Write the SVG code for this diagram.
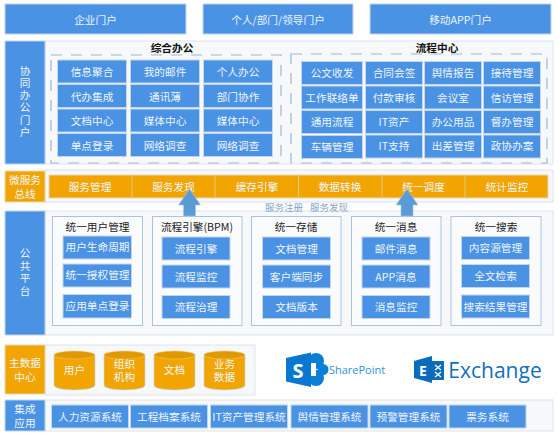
<svg xmlns="http://www.w3.org/2000/svg" width="558" height="437" viewBox="0 0 558 437">
<style>
text{font-family:"Noto Sans CJK SC","Liberation Sans",sans-serif;font-size:10.67px;text-anchor:middle;dominant-baseline:central}
.b{fill:#4a92e3;stroke:#c3d6ec;stroke-width:1}
.o{fill:#f2a500;stroke:#e6d9b8;stroke-width:1}
.p{fill:#f7f8fa;stroke:#dde4ec;stroke-width:1}
.w{fill:#fafbfd;stroke:#a9c4e0;stroke-width:1}
.d{fill:none;stroke:#9db8d8;stroke-width:1.2;stroke-dasharray:11 9}
.t{fill:#eef5fc}
.k{fill:#222}
.h{fill:#111;font-weight:700}
.s{fill:#86a5cc;font-size:9.5px}
.a{fill:#5b9bd5;stroke:#a9c8e8;stroke-width:.6}
.dv{stroke:#e6c77c;stroke-width:1}
.c{fill:#f2a500;stroke:#bcd4ec;stroke-width:.6}
.ct{fill:#e09a00;stroke:#f6cf7a;stroke-width:.5}
.v{writing-mode:vertical-rl;text-orientation:upright;letter-spacing:1.6px}
</style>
<rect width="558" height="437" fill="#fff"/>
<g id="panels">
<rect class="p" x="45" y="41" width="508" height="123"/>
<rect class="p" x="45" y="170" width="508" height="32"/>
<rect class="p" x="45" y="211" width="508" height="124"/>
<rect class="p" x="45" y="345" width="210" height="50"/>
<rect class="p" x="45" y="400" width="508" height="31"/>
<rect class="d" x="51" y="55" width="230" height="108"/>
<rect class="d" x="291" y="54" width="256" height="109"/>
</g>
<g id="portal-enterprise"><rect class="b" x="5" y="4" width="181" height="30"/><text class="t" x="95.500" y="19">企业门户</text></g>
<g id="portal-personal"><rect class="b" x="203" y="4" width="150" height="30"/><text class="t" x="278" y="19">个人/部门/领导门户</text></g>
<g id="portal-mobile"><rect class="b" x="370" y="4" width="181" height="30"/><text class="t" x="460.500" y="19">移动APP门户</text></g>
<g id="side-collab"><rect class="b" x="5" y="41" width="40" height="123"/>
<text class="t v" x="25" y="102">协同办公门户</text></g>
<g id="side-bus"><rect class="o" x="5" y="171" width="40" height="31"/><text class="t" x="25" y="179.500">微服务<tspan x="25" dy="13">总线</tspan></text></g>
<g id="side-platform"><rect class="b" x="5" y="211" width="40" height="124"/>
<text class="t v" x="25" y="273" style="letter-spacing:2.2px">公共平台</text></g>
<g id="side-master"><rect class="o" x="5" y="345" width="40" height="49"/><text class="t" x="25" y="362.500">主数据<tspan x="25" dy="13">中心</tspan></text></g>
<g id="side-integration"><rect class="b" x="5" y="400" width="40" height="31"/><text class="t" x="25" y="408.500">集成<tspan x="25" dy="13">应用</tspan></text></g>
<g id="office"><text class="h" x="172" y="47.500">综合办公</text>
<rect class="b" x="57.500" y="60" width="69" height="23"/><text class="t" x="92" y="71.500">信息聚合</text>
<rect class="b" x="130.500" y="60" width="69" height="23"/><text class="t" x="165" y="71.500">我的邮件</text>
<rect class="b" x="203.500" y="60" width="69" height="23"/><text class="t" x="238" y="71.500">个人办公</text>
<rect class="b" x="57.500" y="84.500" width="69" height="23"/><text class="t" x="92" y="96">代办集成</text>
<rect class="b" x="130.500" y="84.500" width="69" height="23"/><text class="t" x="165" y="96">通讯薄</text>
<rect class="b" x="203.500" y="84.500" width="69" height="23"/><text class="t" x="238" y="96">部门协作</text>
<rect class="b" x="57.500" y="109" width="69" height="23"/><text class="t" x="92" y="120.500">文档中心</text>
<rect class="b" x="130.500" y="109" width="69" height="23"/><text class="t" x="165" y="120.500">媒体中心</text>
<rect class="b" x="203.500" y="109" width="69" height="23"/><text class="t" x="238" y="120.500">媒体中心</text>
<rect class="b" x="57.500" y="133.500" width="69" height="23"/><text class="t" x="92" y="145">单点登录</text>
<rect class="b" x="130.500" y="133.500" width="69" height="23"/><text class="t" x="165" y="145">网络调查</text>
<rect class="b" x="203.500" y="133.500" width="69" height="23"/><text class="t" x="238" y="145">网络调查</text></g>
<g id="process"><text class="h" x="437" y="47.500">流程中心</text>
<rect class="b" x="301.500" y="61.500" width="61" height="23"/><text class="t" x="332" y="72.500">公文收发</text>
<rect class="b" x="365.500" y="61.500" width="57" height="23"/><text class="t" x="394" y="72.500">合同会签</text>
<rect class="b" x="424.500" y="61.500" width="57" height="23"/><text class="t" x="453" y="72.500">舆情报告</text>
<rect class="b" x="483.500" y="61.500" width="57" height="23"/><text class="t" x="512" y="72.500">接待管理</text>
<rect class="b" x="301.500" y="86" width="61" height="23"/><text class="t" x="332" y="97">工作联络单</text>
<rect class="b" x="365.500" y="86" width="57" height="23"/><text class="t" x="394" y="97">付款审核</text>
<rect class="b" x="424.500" y="86" width="57" height="23"/><text class="t" x="453" y="97">会议室</text>
<rect class="b" x="483.500" y="86" width="57" height="23"/><text class="t" x="512" y="97">信访管理</text>
<rect class="b" x="301.500" y="110.500" width="61" height="23"/><text class="t" x="332" y="121.500">通用流程</text>
<rect class="b" x="365.500" y="110.500" width="57" height="23"/><text class="t" x="394" y="121">IT资产</text>
<rect class="b" x="424.500" y="110.500" width="57" height="23"/><text class="t" x="453" y="121">办公用品</text>
<rect class="b" x="483.500" y="110.500" width="57" height="23"/><text class="t" x="512" y="121">督办管理</text>
<rect class="b" x="301.500" y="135.500" width="61" height="23"/><text class="t" x="332" y="146.500">车辆管理</text>
<rect class="b" x="365.500" y="135" width="57" height="23"/><text class="t" x="394" y="145.500">IT支持</text>
<rect class="b" x="424.500" y="135" width="57" height="23"/><text class="t" x="453" y="145.500">出差管理</text>
<rect class="b" x="483.500" y="135" width="57" height="23"/><text class="t" x="512" y="145.500">政协办案</text></g>
<g id="bus"><rect x="49" y="175" width="499" height="23" fill="#f2a500" stroke="#e6d9b8"/>
<path class="dv" d="M132 175V198M215 175V198M298.500 175V198M382 175V198M465 175V198"/>
<text class="t" x="90" y="186">服务管理</text><text class="t" x="173.500" y="186">服务发现</text><text class="t" x="257" y="186">缓存引擎</text><text class="t" x="340" y="186">数据转换</text><text class="t" x="423.500" y="186">统一调度</text><text class="t" x="507" y="186">统计监控</text></g>
<g id="connectors">
<path class="a" d="M189.500 189L178.500 205H183.500V216H195.500V205H200.500Z"/>
<path class="a" d="M407 189L396 205H401V216H413V205H418Z"/>
</g>
<g id="connector-labels"><text class="s" x="284" y="207">服务注册</text><text class="s" x="329" y="207">服务发现</text></g>
<g id="user-mgmt"><rect class="w" x="52.500" y="216.500" width="90" height="109"/><text class="k" x="97.500" y="226.500">统一用户管理</text>
<rect class="b" x="63" y="236" width="68.500" height="23"/><text class="t" x="97.500" y="246.500">用户生命周期</text>
<rect class="b" x="63" y="264" width="68.500" height="23"/><text class="t" x="97.500" y="274.500">统一授权管理</text>
<rect class="b" x="63" y="294.500" width="68.500" height="23.500"/><text class="t" x="97.500" y="305.500">应用单点登录</text></g>
<g id="bpm"><rect class="w" x="152.500" y="216.500" width="89.500" height="109"/><text class="k" x="197" y="226.500">流程引擎(BPM)</text>
<rect class="b" x="162" y="237" width="68" height="23"/><text class="t" x="196" y="248">流程引擎</text>
<rect class="b" x="162" y="265" width="68" height="23"/><text class="t" x="196" y="276">流程监控</text>
<rect class="b" x="162" y="295.500" width="68" height="23"/><text class="t" x="196" y="306.500">流程治理</text></g>
<g id="storage"><rect class="w" x="251.500" y="216.500" width="89.500" height="109"/><text class="k" x="296" y="226.500">统一存储</text>
<rect class="b" x="262.500" y="237" width="68" height="23"/><text class="t" x="296.500" y="248">文档管理</text>
<rect class="b" x="262.500" y="265" width="68" height="23"/><text class="t" x="296.500" y="276">客户端同步</text>
<rect class="b" x="262.500" y="295.500" width="68" height="23"/><text class="t" x="296.500" y="306.500">文档版本</text></g>
<g id="message"><rect class="w" x="351.500" y="216.500" width="89.500" height="109"/><text class="k" x="396" y="226.500">统一消息</text>
<rect class="b" x="362" y="237" width="68" height="23"/><text class="t" x="396" y="248">邮件消息</text>
<rect class="b" x="362" y="265" width="68" height="23"/><text class="t" x="396" y="276">APP消息</text>
<rect class="b" x="362" y="295.500" width="68" height="23"/><text class="t" x="396" y="306.500">消息监控</text></g>
<g id="search"><rect class="w" x="451" y="216.500" width="90" height="109"/><text class="k" x="496" y="226.500">统一搜索</text>
<rect class="b" x="461.500" y="236.500" width="68" height="23"/><text class="t" x="495.500" y="247">内容源管理</text>
<rect class="b" x="461.500" y="264.500" width="68" height="23"/><text class="t" x="495.500" y="275.500">全文检索</text>
<rect class="b" x="461.500" y="295" width="68" height="23"/><text class="t" x="495.500" y="306">搜索结果管理</text></g>
<defs><g id="cyl"><path class="c" d="M0 5V35C0 41.500 41 41.500 41 35V5Z"/><ellipse class="ct" cx="20.500" cy="5" rx="20.500" ry="4"/></g></defs>
<g id="db-user"><use href="#cyl" x="54" y="350"/><text class="t" x="74.500" y="369.500">用户</text></g>
<g id="db-org"><use href="#cyl" x="104" y="350"/><text class="t" x="124.500" y="363">组织<tspan x="124.500" dy="13">机构</tspan></text></g>
<g id="db-doc"><use href="#cyl" x="154" y="350"/><text class="t" x="174.500" y="369.500">文档</text></g>
<g id="db-biz"><use href="#cyl" x="204" y="350"/><text class="t" x="224.500" y="363">业务<tspan x="224.500" dy="13">数据</tspan></text></g>
<g id="integration">
<rect class="b" x="51.500" y="405" width="77" height="23"/><text class="t" x="90" y="416">人力资源系统</text>
<rect class="b" x="130.500" y="405" width="77" height="23"/><text class="t" x="169" y="416">工程档案系统</text>
<rect class="b" x="210.500" y="405" width="77" height="23"/><text class="t" x="249" y="416">IT资产管理系统</text>
<rect class="b" x="291" y="405" width="77" height="23"/><text class="t" x="329.500" y="416">舆情管理系统</text>
<rect class="b" x="370" y="405" width="77" height="23"/><text class="t" x="408.500" y="416">预警管理系统</text>
<rect class="b" x="449" y="405" width="77" height="23"/><text class="t" x="487.500" y="416">票务系统</text></g>
<g id="logo-sharepoint">
<circle cx="316" cy="361" r="8" fill="#0b7fd4"/><circle cx="316" cy="378" r="8" fill="#0b7fd4"/><circle cx="323" cy="369.500" r="5.500" fill="#0b7fd4"/>
<path d="M286 358L311 352.500V387L286 381.500Z" fill="#0a78d1"/>
<path d="M311 363h5v13h-5z" fill="#fff"/>
<text x="298" y="370" style="font-family:'Open Sans',sans-serif;font-size:20px;font-weight:700" fill="#fff">S</text>
<text x="357" y="369" style="font-family:'Open Sans',sans-serif;font-size:11px" fill="#2b93dc">SharePoint</text></g>
<g id="logo-exchange">
<path d="M414 361L432 356V383L414 378Z" fill="#0a6cbd"/><rect x="432" y="361" width="12" height="19" fill="#0a6cbd"/>
<path d="M435 365l6 5M441 365l-6 5M435 372l6 5M441 372l-6 5" stroke="#fff" stroke-width="1.300"/>
<text x="423" y="370" style="font-family:'Open Sans',sans-serif;font-size:14px;font-weight:700" fill="#fff">E</text>
<text x="495" y="370" style="font-family:'Open Sans',sans-serif;font-size:21px" fill="#0f70bf">Exchange</text></g>
</svg>
